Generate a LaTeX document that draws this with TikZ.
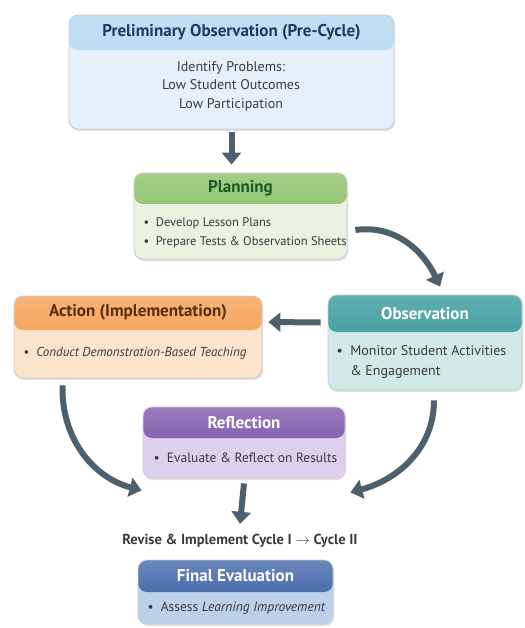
\documentclass[tikz,border=0pt]{standalone}
\usepackage{fontspec}
\setmainfont{PT Sans}
\usetikzlibrary{arrows.meta,shadows}

\definecolor{slate}{HTML}{4E606C}
\definecolor{boxedge}{HTML}{C9CED3}
\definecolor{bodytext}{HTML}{3A3A40}
\definecolor{prehead}{HTML}{A9D3EF}
\definecolor{prebody}{HTML}{E4F1FB}
\definecolor{pretitle}{HTML}{1E3B5E}
\definecolor{planhead}{HTML}{7DB956}
\definecolor{planbody}{HTML}{EAF3DF}
\definecolor{plantitle}{HTML}{1C5A2A}
\definecolor{acthead}{HTML}{F39440}
\definecolor{actbody}{HTML}{FCE3CB}
\definecolor{acttitle}{HTML}{5A2E0C}
\definecolor{obshead}{HTML}{1F8C8D}
\definecolor{obsbody}{HTML}{D2E9E7}
\definecolor{reflhead}{HTML}{6E44A2}
\definecolor{reflbody}{HTML}{DDD0EC}
\definecolor{finhead}{HTML}{2B549E}
\definecolor{finbody}{HTML}{BCD0EA}

\begin{document}
\begin{tikzpicture}[x=1pt,y=-1pt,
    stage/.style n args={3}{rounded corners=9pt, draw=boxedge, line width=0.8pt, fill=#2,
      drop shadow={opacity=0.25, shadow xshift=1pt, shadow yshift=-2pt},
      path picture={\shade[top color=#1!70!white, bottom color=#1]
        (path picture bounding box.north west) rectangle ([yshift=-#3]path picture bounding box.north east);}},
    title/.style={font=\bfseries\fontsize{17}{19}\selectfont},
    body/.style={font=\fontsize{13}{19}\selectfont, text=bodytext},
    flow/.style={draw=slate, line width=6pt, -{Triangle[length=12pt,width=19pt]}}]
    \useasboundingbox (0,0) rectangle (524,628);

    % Vorbeobachtung
    \node[stage={prehead}{prebody}{35pt}, minimum width=325pt, minimum height=114pt] (pre) at (231.5,72) {};
    \node[title, text=pretitle] (preT) at ([yshift=-17.5pt]pre.north) {Preliminary Observation (Pre-Cycle)};
    \node[body, align=center, font=\fontsize{14}{18.5}\selectfont] (preB) at (231,86) {Identify Problems:\\Low Student Outcomes\\Low Participation};

    % Planung
    \node[stage={planhead}{planbody}{31pt}, minimum width=213pt, minimum height=86pt] (plan) at (240.5,216) {};
    \node[title, text=plantitle] (planT) at ([yshift=-15.5pt]plan.north) {Planning};
    \node[body, anchor=west, align=left, font=\fontsize{12.5}{19}\selectfont] (planB) at (140,232.5) {\textbullet\ \ Develop Lesson Plans\\\textbullet\ \ Prepare Tests \& Observation Sheets};

    % Handlung
    \node[stage={acthead}{actbody}{34pt}, minimum width=248pt, minimum height=82pt] (act) at (138,337) {};
    \node[title, text=acttitle] (actT) at ([yshift=-17pt]act.north) {Action (Implementation)};
    \node[body, anchor=west] (actB) at (20,353) {\textbullet\ \ \itshape Conduct Demonstration-Based Teaching};

    % Beobachtung
    \node[stage={obshead}{obsbody}{37pt}, minimum width=194pt, minimum height=95pt] (obs) at (425,342.5) {};
    \node[title, text=white] (obsT) at ([yshift=-18.5pt]obs.north) {Observation};
    \node[body, anchor=west, align=left, font=\fontsize{14}{20}\selectfont] (obsB) at (333,362) {\textbullet\ \ Monitor Student Activities\\\phantom{\textbullet\ \ }\& Engagement};

    % Reflexion
    \node[stage={reflhead}{reflbody}{31pt}, minimum width=202pt, minimum height=71pt] (refl) at (244,442.5) {};
    \node[title, text=white] (reflT) at ([yshift=-15.5pt]refl.north) {Reflection};
    \node[body, anchor=west, font=\fontsize{13.5}{19}\selectfont] (reflB) at (150,458) {\textbullet\ \ Evaluate \& Reflect on Results};

    \node[font=\bfseries\fontsize{14.5}{17}\selectfont, text=bodytext] (rev) at (240,541) {Revise \& Implement Cycle I $\rightarrow$ Cycle II};

    % Schlussbewertung
    \node[stage={finhead}{finbody}{32pt}, minimum width=195pt, minimum height=64pt] (fin) at (235.5,592) {};
    \node[title, text=white] (finT) at ([yshift=-16pt]fin.north) {Final Evaluation};
    \node[body, anchor=west, font=\fontsize{13.5}{19}\selectfont] (finB) at (144,608) {\textbullet\ \ Assess \textit{Learning Improvement}};

    % Pfeile
    \draw[flow] ([yshift=-3pt]pre.south) -- ([yshift=8pt]pre.south |- plan.north);
    \draw[flow] ([xshift=8pt,yshift=-14pt]plan.east) to[out=8, in=115] ([xshift=15pt,yshift=8pt]obs.north);
    \draw[flow] ([xshift=-7pt,yshift=20pt]obs.west) -- ([xshift=6pt,yshift=15pt]act.east);
    \draw[flow] ([xshift=49pt,yshift=-7pt]act.south west) to[out=-92, in=165] ([xshift=-1pt,yshift=-12pt]refl.south west);
    \draw[flow] ([xshift=9pt,yshift=-10pt]obs.south) to[out=-90, in=15] ([xshift=5pt,yshift=-14pt]refl.south east);
    \draw[flow] ([yshift=-5pt]refl.south) -- ([yshift=7pt]rev.north);
\end{tikzpicture}
\end{document}
